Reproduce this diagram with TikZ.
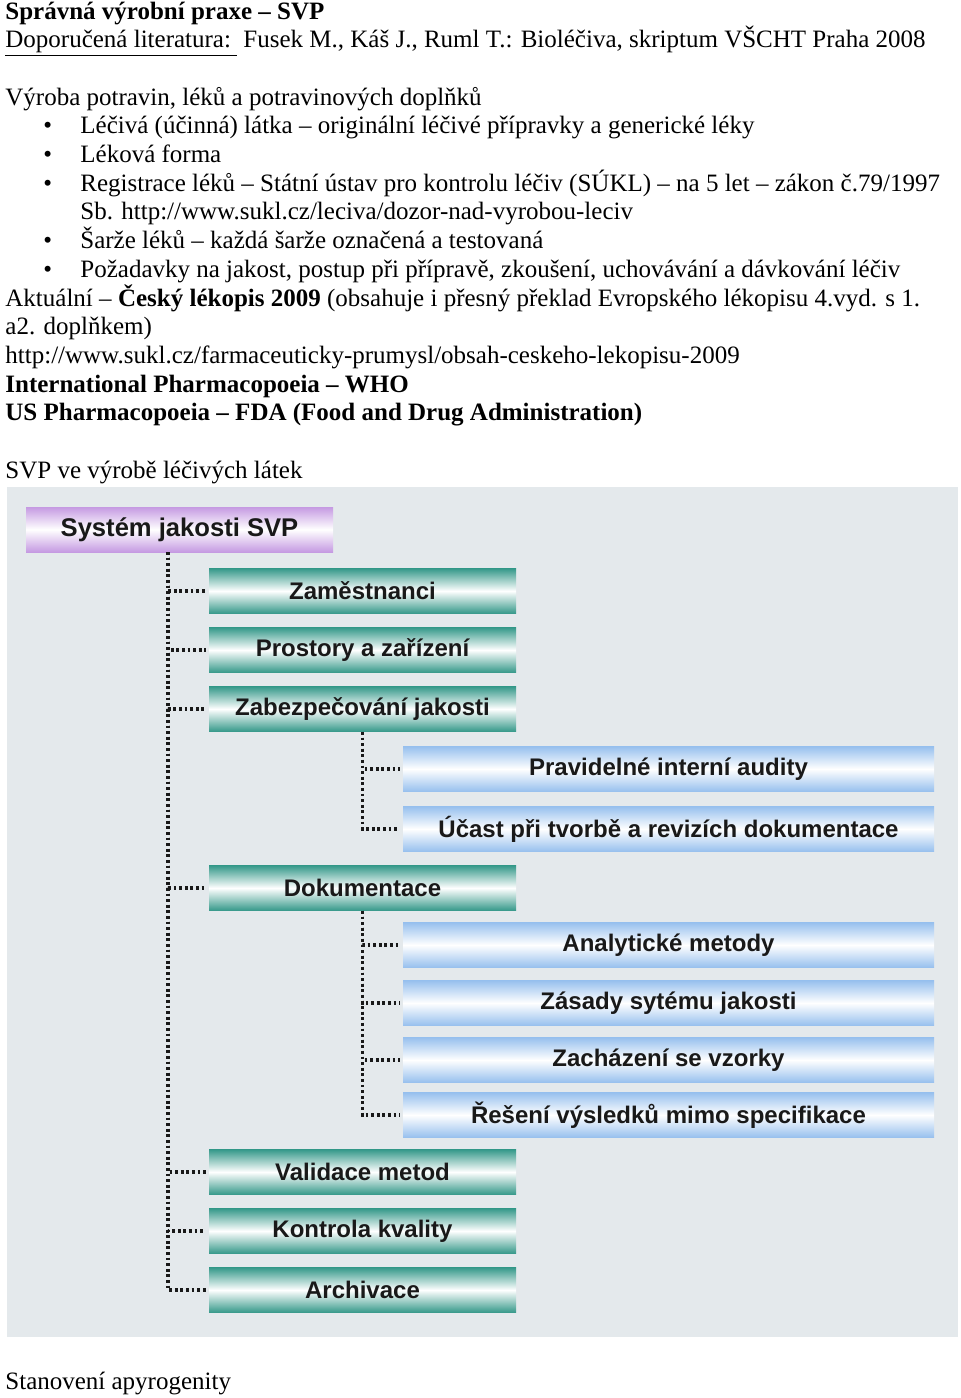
\documentclass[tikz,border=0pt]{standalone}
\usepackage{fontspec}
\setmainfont{Liberation Serif}
\newfontfamily\barfont{Liberation Sans}

\definecolor{panelgray}{HTML}{E4E9EC}
\definecolor{svpviolet}{HTML}{C59AE2}
\definecolor{svpteal}{HTML}{36998A}
\definecolor{svpblue}{HTML}{97C0EE}

\begin{document}
\begin{tikzpicture}[x=0.5pt,y=-0.5pt,
    txt/.style={anchor=base west,inner sep=0pt,font=\fontsize{12.5}{15}\selectfont},
    bar/.style={minimum height=22.5pt,inner sep=0pt,text=black!90,
        font=\barfont\bfseries\fontsize{12}{14}\selectfont},
    topbar/.style={bar,minimum width=153.5pt,top color=svpviolet,bottom color=svpviolet,middle color=white,
        font=\barfont\bfseries\fontsize{12.8}{15}\selectfont},
    greenbar/.style={bar,minimum width=153.5pt,top color=svpteal,bottom color=svpteal,middle color=white},
    bluebar/.style={bar,minimum width=265.5pt,top color=svpblue,bottom color=svpblue,middle color=white},
    tree/.style={black!90,line width=1.6pt,dash pattern=on 1.4pt off 1.4pt,shorten >=1.5pt}]

        \def\xT{5}                                  % left margin of the text
        \def\xB{43}                                 % bullets
        \def\xI{80}                                 % indented items
        \def\dy{28.7}                               % line distance
        \def\xG{362.5}                              % centre of the green bars
        \def\xL{668.5}                              % centre of the blue bars

        \useasboundingbox (0,0) rectangle (960,1398);

        % Text above the chart
        \node[txt,font=\fontsize{12.5}{15}\selectfont\bfseries] (title) at (\xT,19) {Správná výrobní praxe – SVP};
        \node[txt] (lit) at (\xT,19+\dy) {\underline{Doporučená literatura:\ }\ Fusek M., Káš J., Ruml T.: Bioléčiva, skriptum VŠCHT Praha 2008};
        \node[txt] (intro) at (\xT,19+3*\dy) {Výroba potravin, léků a potravinových doplňků};
        \foreach \i in {4,5,6,8,9}
            \node[txt] (b\i) at (\xB,19+\i*\dy) {•};
        \node[txt] (item1) at (\xI,19+4*\dy) {Léčivá (účinná) látka – originální léčivé přípravky a generické léky};
        \node[txt] (item2) at (\xI,19+5*\dy) {Léková forma};
        \node[txt] (item3) at (\xI,19+6*\dy) {Registrace léků – Státní ústav pro kontrolu léčiv (SÚKL) – na 5 let – zákon č.79/1997};
        \node[txt] (item3b) at (\xI,19+7*\dy) {Sb. http://www.sukl.cz/leciva/dozor-nad-vyrobou-leciv};
        \node[txt] (item4) at (\xI,19+8*\dy) {Šarže léků – každá šarže označená a testovaná};
        \node[txt] (item5) at (\xI,19+9*\dy) {Požadavky na jakost, postup při přípravě, zkoušení, uchovávání a dávkování léčiv};
        \node[txt] (cl) at (\xT,19+10*\dy) {Aktuální – \textbf{Český lékopis 2009} (obsahuje i přesný překlad Evropského lékopisu 4.vyd. s 1.};
        \node[txt] (clb) at (\xT,19+11*\dy) {a2. doplňkem)};
        \node[txt] (url) at (\xT,19+12*\dy) {http://www.sukl.cz/farmaceuticky-prumysl/obsah-ceskeho-lekopisu-2009};
        \node[txt,font=\fontsize{12.5}{15}\selectfont\bfseries] (who) at (\xT,19+13*\dy) {International Pharmacopoeia – WHO};
        \node[txt,font=\fontsize{12.5}{15}\selectfont\bfseries] (fda) at (\xT,19+14*\dy) {US Pharmacopoeia – FDA (Food and Drug Administration)};
        \node[txt] (svpvv) at (\xT,19+16*\dy) {SVP ve výrobě léčivých látek};

        % Grey panel of the chart
        \fill[panelgray] (7,487) rectangle (958,1337);

        % Bars
        \node[topbar] (svp) at (179.5,529.5) {Systém jakosti SVP};

        \node[greenbar] (zam)  at (\xG,591)  {Zaměstnanci};
        \node[greenbar] (pro)  at (\xG,650)  {Prostory a zařízení};
        \node[greenbar] (zab)  at (\xG,709)  {Zabezpečování jakosti};
        \node[greenbar] (dok)  at (\xG,888)  {Dokumentace};
        \node[greenbar] (val)  at (\xG,1172) {Validace metod};
        \node[greenbar] (kon)  at (\xG,1231) {Kontrola kvality};
        \node[greenbar] (arc)  at (\xG,1290) {Archivace};

        \node[bluebar] (aud)   at (\xL,769)  {Pravidelné interní audity};
        \node[bluebar] (ucast) at (\xL,829)  {Účast při tvorbě a revizích dokumentace};
        \node[bluebar] (ana)   at (\xL,945)  {Analytické metody};
        \node[bluebar] (zas)   at (\xL,1003) {Zásady sytému jakosti};
        \node[bluebar] (zach)  at (\xL,1060) {Zacházení se vzorky};
        \node[bluebar] (res)   at (\xL,1115) {Řešení výsledků mimo specifikace};

        % Dotted tree
        \coordinate (trunk) at (168,552);
        \foreach \n in {zam,pro,zab,dok,val,kon,arc}
            \draw[tree] (trunk) |- (\n.west);
        \foreach \n in {aud,ucast}
            \draw[tree] (zab.south) |- (\n.west);
        \foreach \n in {ana,zas,zach,res}
            \draw[tree] (dok.south) |- (\n.west);

        % Text below the chart
        \node[txt] (apyro) at (\xT,1389) {Stanovení apyrogenity};
\end{tikzpicture}
\end{document}
